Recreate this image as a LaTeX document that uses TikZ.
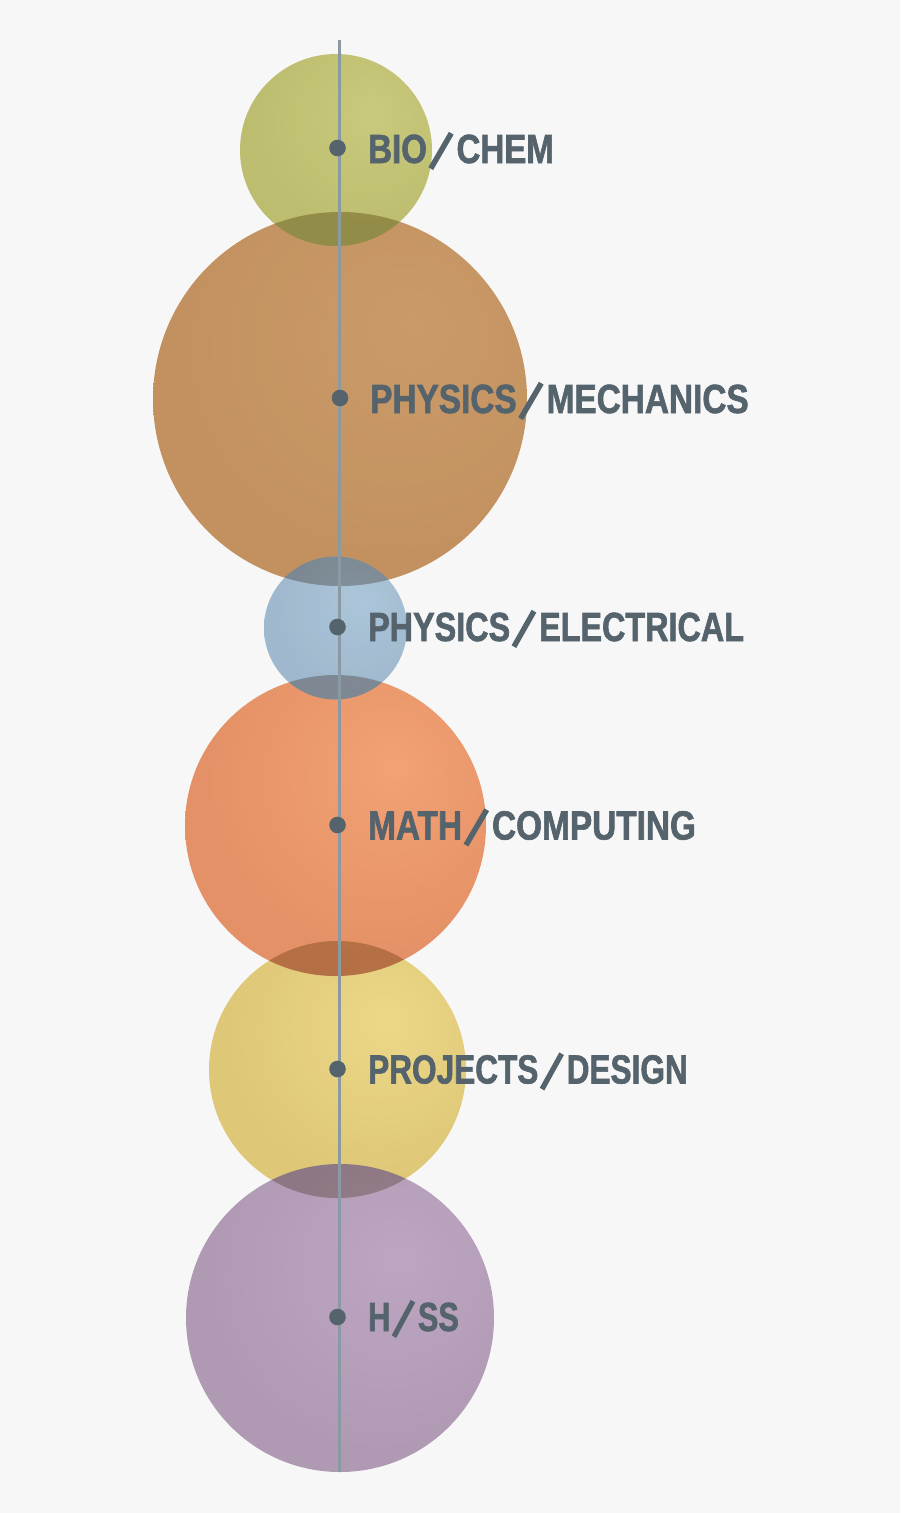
\documentclass[tikz,border=0pt]{standalone}
\usepackage{fontspec}
\setmainfont{Liberation Sans}
\newfontfamily\labelfont[FakeStretch=0.82,FakeBold=1.5]{Liberation Sans}
\definecolor{bg}{HTML}{F7F7F7}
\definecolor{labelc}{HTML}{55636D}
\definecolor{axisc}{HTML}{8A99A3}
\colorlet{hl}{white}\colorlet{mid}{gray}\colorlet{edge}{black}
\pgfdeclareradialshading[hl,mid,edge]{sph}{\pgfpoint{10bp}{10bp}}{color(0bp)=(hl);color(28bp)=(mid);color(44bp)=(mid);color(62bp)=(edge);color(80bp)=(edge)}
\newcommand{\myball}[6]{%
  \definecolor{hl}{HTML}{#4}\definecolor{mid}{HTML}{#5}\definecolor{edge}{HTML}{#6}%
  \path[opacity=0.85, shading=sph] (#1,#2) circle (#3);}
\newcommand{\myshadow}[6]{%
  \begin{scope}\clip (#1,#2) circle (#3);
  \fill[black, opacity=0.2] (#4,#5) circle (#6);\end{scope}}
\newcommand{\myslash}{\hspace{1.5pt}\raisebox{-7pt}{\rotatebox{59.7}{\rule{41pt}{5.5pt}}}\hspace{3pt}}
\newcommand{\sx}[2]{\scalebox{#1}[1]{#2}}
\begin{document}
\begin{tikzpicture}[x=1pt,y=-1pt,
  lbl/.style={font=\labelfont\bfseries\fontsize{40.7}{44}\selectfont, text=labelc, inner sep=0pt, anchor=base west},
  dotnode/.style={circle, fill=labelc, inner sep=0pt, minimum size=16.6pt}]
\useasboundingbox (0,0) rectangle (900,1513);
\fill[bg] (0,0) rectangle (900,1513);
% spheres (z-order as in the picture)
\myball{340}{399}{187}{C28B50}{BA8045}{9C6933}
\myball{336}{150}{96}{C2C268}{B4B458}{918C33}
\myball{337.5}{1069.5}{128.5}{EAD374}{DAC062}{B49A44}
\myball{335.5}{825.5}{150.5}{F1935D}{E3804F}{C06237}
\myball{335.5}{628}{71.5}{9FBDD5}{91AEC6}{6D8597}
\myball{340}{1318}{154}{B498B9}{A48AA8}{856B8A}
% darker overlaps
\myshadow{336}{150}{96}{340}{399}{187}
\myshadow{335.5}{628}{71.5}{340}{399}{187}
\myshadow{335.5}{628}{71.5}{335.5}{825.5}{150.5}
\myshadow{335.5}{825.5}{150.5}{337.5}{1069.5}{128.5}
\myshadow{337.5}{1069.5}{128.5}{340}{1318}{154}
% axis
\coordinate (top) at (339.5,40);
\coordinate (bottom) at (339.5,1472);
\draw[axisc, line width=2.2pt] (top) -- (bottom);
% dots
\node[dotnode] (d1) at (337.5,148) {};
\node[dotnode] (d2) at (340,398) {};
\node[dotnode] (d3) at (337.5,627) {};
\node[dotnode] (d4) at (337.5,825) {};
\node[dotnode] (d5) at (337.5,1069) {};
\node[dotnode] (d6) at (337.5,1317) {};
% labels
\node[lbl] (l1) at (368,163) {\sx{0.99}{BIO\myslash CHEM}};
\node[lbl] (l2) at (370,413) {PHYSICS\myslash MECHANICS};
\node[lbl] (l3) at (368,641) {\sx{0.969}{PHYSICS\myslash ELECTRICAL}};
\node[lbl] (l4) at (368,839.5) {MATH\myslash COMPUTING};
\node[lbl] (l5) at (368,1083.5) {\sx{0.946}{PROJECTS\myslash DESIGN}};
\node[lbl] (l6) at (368,1331) {\sx{0.92}{H\myslash SS}};
\end{tikzpicture}
\end{document}
